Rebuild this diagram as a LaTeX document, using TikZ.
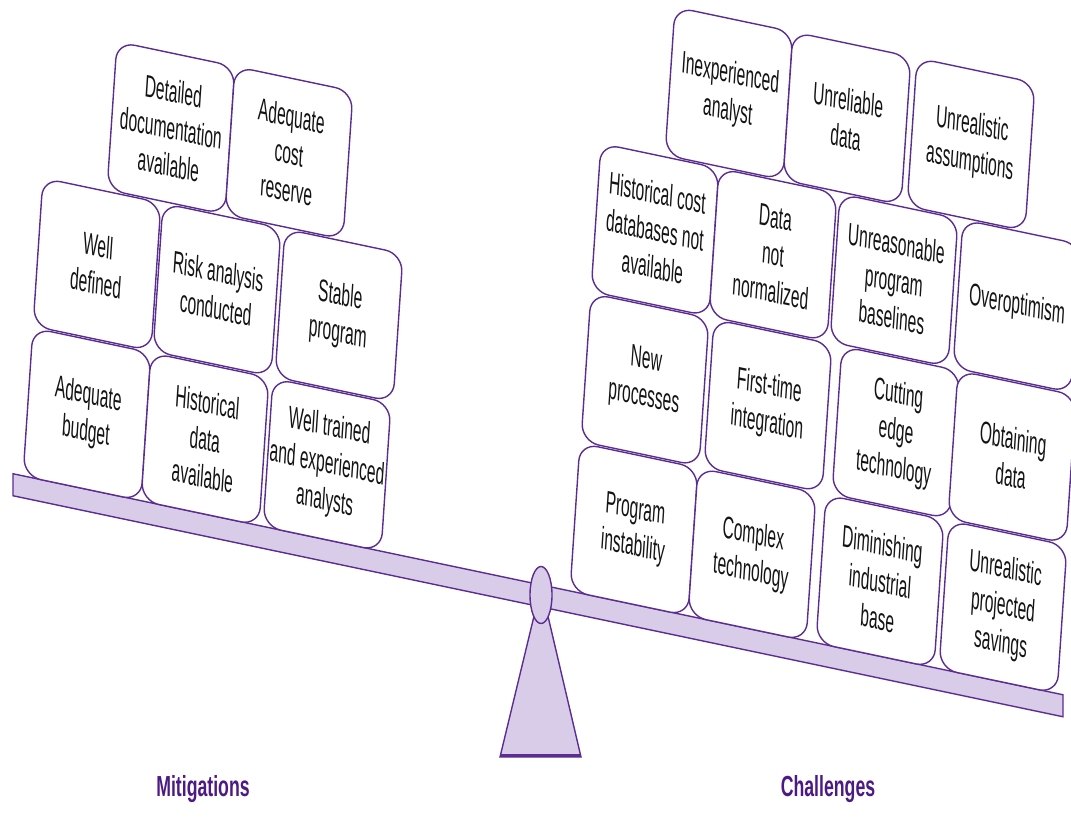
\documentclass[tikz,border=0pt]{standalone}
\usepackage{fontspec}
\usetikzlibrary{shapes.geometric}
\newfontfamily\boxfont[FakeStretch=0.5]{Liberation Sans}
\newfontfamily\labelfont[FakeStretch=0.61]{Liberation Sans}
\definecolor{seesaw-line}{HTML}{5C2D91}
\definecolor{seesaw-fill}{HTML}{D9CCE8}
\definecolor{label-purple}{HTML}{4B1A84}
\definecolor{box-text}{HTML}{141414}
\def\slope{0.2105}
% x / row / name / text
\def\mitigations{{87/396/budget/Adequate\\budget}, {205/396/histdata/Historical\\data\\available}, {327/396/trained/Well trained\\and experienced\\analysts},
  {97/244/welldef/Well\\defined}, {217/244/risk/Risk analysis\\conducted}, {339/244/stable/Stable\\program},
  {171/92/docs/Detailed\\documentation\\available}, {289/92/reserve/Adequate\\cost\\reserve}}
\def\challenges{{634/396/instab/Program\\instability}, {752/396/complex/Complex\\technology}, {880/396/dimin/Diminishing\\industrial\\base}, {1003/396/savings/Unrealistic\\projected\\savings},
  {645/244/newproc/New\\processes}, {768/244/firsttime/First-time\\integration}, {896/244/cutting/Cutting\\edge\\technology}, {1012/244/obtain/Obtaining\\data},
  {655/92/histcost/Historical cost\\databases not\\available}, {773/92/normal/Data\\not\\normalized}, {894/92/baseline/Unreasonable\\program\\baselines}, {1017/92/overopt/Overoptimism},
  {729/-60/inexp/Inexperienced\\analyst}, {847/-60/unreliable/Unreliable\\data}, {971/-60/assump/Unrealistic\\assumptions}}
\tikzstyle{tilted}=[cm={1,-0.2105,0.067,1,(0,0)}]
\tikzstyle{block}=[tilted, draw=seesaw-line, line width=1.4pt, fill=white, rounded corners=18pt, minimum width=118pt, minimum height=148pt, inner sep=0pt, align=center, text=box-text, font=\boxfont\fontsize{31}{37}\selectfont]
\tikzstyle{seesaw part}=[draw=seesaw-line, line width=1.4pt, fill=seesaw-fill]
\tikzstyle{side label}=[font=\labelfont\bfseries\fontsize{29}{33}\selectfont, text=label-purple, anchor=base]

\begin{document}
\begin{tikzpicture}[x=1pt, y=-1pt]
  \useasboundingbox (0,0) rectangle (1071,819);

  % The stand and the beam
  \path[seesaw part] (535,612) -- (547,612) -- (581,757) -- (500,757) -- cycle;
  \draw[seesaw-line, line width=3pt] (500.5,755.5) -- (580.5,755.5);
  \path[seesaw part] (13,{471+\slope*13}) -- (1063,{471+\slope*1063})
    -- (1063,{493+\slope*1063}) -- (13,{493+\slope*13}) -- cycle;
  \node[seesaw part, ellipse, minimum width=22pt, minimum height=57pt, inner sep=0pt] (pivot) at (541,595) {};

  % Both piles of blocks
  \foreach \x/\v/\name/\words in \mitigations {
    \node[block] (\name) at (\x,{\v+\slope*\x}) {\words};
  }
  \foreach \x/\v/\name/\words in \challenges {
    \node[block] (\name) at (\x,{\v+\slope*\x}) {\words};
  }

  \node[side label] (mitig-label) at (203,796) {Mitigations};
  \node[side label] (chall-label) at (828,796) {Challenges};
\end{tikzpicture}
\end{document}
